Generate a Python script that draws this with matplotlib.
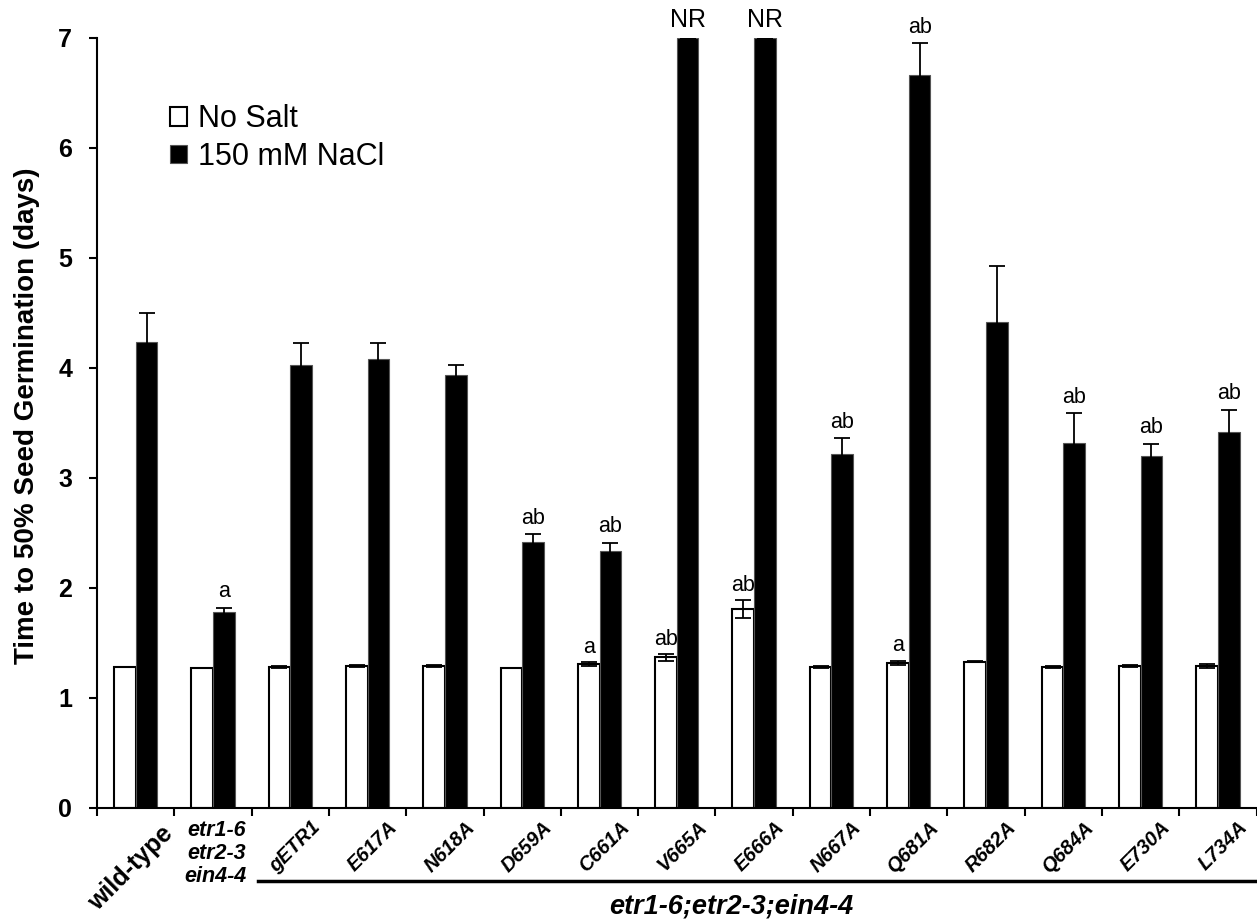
import matplotlib.pyplot as plt
import numpy as np

plt.rcParams['font.family'] = ['Liberation Sans', 'DejaVu Sans']

lineas = ['wild-type', 'etr1-6\netr2-3\nein4-4', 'gETR1', 'E617A', 'N618A', 'D659A',
          'C661A', 'V665A', 'E666A', 'N667A', 'Q681A', 'R682A', 'Q684A', 'E730A', 'L734A']
sin_sal = [1.28, 1.27, 1.28, 1.29, 1.29, 1.27, 1.31, 1.37, 1.81, 1.28, 1.32, 1.33, 1.28, 1.29, 1.29]
err_sin_sal = [0.0, 0.0, 0.01, 0.01, 0.01, 0.0, 0.02, 0.03, 0.08, 0.01, 0.02, 0.005, 0.01, 0.01, 0.02]
con_sal = [4.24, 1.78, 4.03, 4.08, 3.94, 2.42, 2.34, 7.0, 7.0, 3.22, 6.66, 4.42, 3.32, 3.20, 3.42]
err_con_sal = [0.26, 0.04, 0.2, 0.15, 0.09, 0.07, 0.07, 0.0, 0.0, 0.14, 0.29, 0.51, 0.27, 0.11, 0.2]
letras_sin_sal = ['', '', '', '', '', '', 'a', 'ab', 'ab', '', 'a', '', '', '', '']
letras_con_sal = ['', 'a', '', '', '', 'ab', 'ab', 'NR', 'NR', 'ab', 'ab', '', 'ab', 'ab', 'ab']

fig = plt.figure(figsize=(12.57, 9.19), dpi=100)
ax = fig.add_axes([0.0772, 0.1208, 0.9225, 0.8379])

x = np.arange(len(lineas)) + 0.5
w = 0.28
ax.bar(x - w / 2, sin_sal, w, color='white', edgecolor='black', linewidth=1.5, label='No Salt')
ax.bar(x + w / 2, con_sal, w, color='black', edgecolor='#555555', linewidth=0.8, label='150 mM NaCl')
ax.errorbar(x - w / 2, sin_sal, yerr=err_sin_sal, fmt='none', ecolor='black', elinewidth=1.3, capsize=6, capthick=1.3)
ax.errorbar(x + w / 2, con_sal, yerr=err_con_sal, fmt='none', ecolor='black', elinewidth=1.3, capsize=6, capthick=1.3)

for i in range(len(lineas)):
    if letras_sin_sal[i]:
        ax.annotate(letras_sin_sal[i], (x[i] - w / 2, sin_sal[i] + err_sin_sal[i]), xytext=(0, 3),
                    textcoords='offset points', ha='center', va='bottom', fontsize=15.5)
    if letras_con_sal[i]:
        tam = 18 if letras_con_sal[i] == 'NR' else 15.5
        ax.annotate(letras_con_sal[i], (x[i] + w / 2, con_sal[i] + err_con_sal[i]), xytext=(0, 4),
                    textcoords='offset points', ha='center', va='bottom', fontsize=tam,
                    annotation_clip=False)

ax.set_xlim(0, len(lineas))
ax.set_ylim(0, 7)
ax.set_yticks(range(8))
ax.tick_params(axis='y', labelsize=18, width=1.5, length=6, pad=12)
for t in ax.get_yticklabels():
    t.set_fontweight('bold')
ax.set_xticks(np.arange(len(lineas) + 1))
ax.set_xticklabels([])
ax.tick_params(axis='x', width=1.5, length=6)
ax.spines['top'].set_visible(False)
ax.spines['right'].set_visible(False)
ax.spines['left'].set_linewidth(1.5)
ax.spines['bottom'].set_linewidth(1.5)
ax.set_ylabel('Time to 50% Seed Germination (days)', fontsize=20, fontweight='bold')
ax.yaxis.set_label_coords(-0.049, 0.51)

# etiquetas del eje x
trans = ax.get_xaxis_transform()
ax.text(x[0] + 0.32, -0.018, lineas[0], transform=trans, rotation=45, rotation_mode='anchor',
        ha='right', va='top', fontsize=18, fontweight='bold')
ax.text(x[1] + 0.03, -0.015, lineas[1], transform=trans, ha='center', va='top',
        multialignment='right', fontsize=15.5, fontweight='bold', style='italic', linespacing=1.15)
for i in range(2, len(lineas)):
    ax.text(x[i] + 0.26, -0.013, lineas[i], transform=trans, rotation=45, rotation_mode='anchor',
            ha='right', va='top', fontsize=14.5, fontweight='bold', style='italic')

ax.plot([2.08, 15], [-0.095, -0.095], transform=trans, color='black', linewidth=2.5, clip_on=False)
ax.text(8.2, -0.111, 'etr1-6;etr2-3;ein4-4', transform=trans, ha='center', va='top',
        fontsize=19.5, fontweight='bold', style='italic')

ax.legend(loc='upper left', bbox_to_anchor=(0.063, 0.914), frameon=False, fontsize=22,
          handlelength=0.56, handleheight=0.56, handletextpad=0.36, labelspacing=0.25,
          borderaxespad=0, borderpad=0)

fig.savefig('out.png', dpi=100)
